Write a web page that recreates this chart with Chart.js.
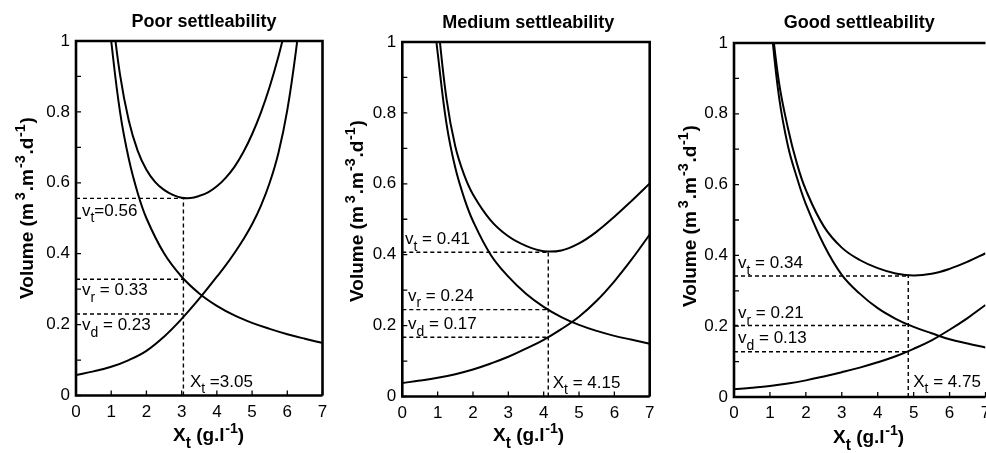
<!DOCTYPE html>
<html><head><meta charset="utf-8">
<script src="https://cdn.jsdelivr.net/npm/chart.js@4.4.1/dist/chart.umd.min.js"></script>
<style>
html,body{margin:0;padding:0;background:#fff;overflow:hidden;width:986px;height:453px;position:relative;}
canvas{position:absolute;top:0;}
</style></head><body>
<canvas id="c1" width="330" height="453" style="left:0px"></canvas>
<canvas id="c2" width="332" height="453" style="left:330px"></canvas>
<canvas id="c3" width="330" height="453" style="left:662px"></canvas>
<script>
// ---------------- data ----------------
const xTickLabels = ['0','1','2','3','4','5','6','7'];
const yTickLabels = ['0','0.2','0.4','0.6','0.8','1'];
const panelTitles = ['Poor settleability','Medium settleability','Good settleability'];

// Poor settleability
const poorVrX = [0.95,1.0,1.25,1.5,1.75,2.0,2.5,3.0,3.5,4.0,4.5,5.0,5.5,6.0,6.5,7.0];
const poorVrY = [1.06,1.0,0.8,0.667,0.572,0.5,0.401,0.335,0.288,0.253,0.226,0.205,0.188,0.173,0.16,0.148];
const poorVdX = [0,0.5,1,1.5,2,2.5,3,3.5,4,4.25,4.5,4.75,5,5.25,5.5,5.75,6.0,6.25,6.5];
const poorVdY = [0.058,0.068,0.081,0.1,0.126,0.166,0.216,0.273,0.335,0.367,0.402,0.44,0.483,0.535,0.6,0.685,0.805,0.975,1.19];
const poorVtX = [1.0,1.25,1.5,1.75,2.0,2.25,2.5,2.75,3.0,3.25,3.5,3.75,4.0,4.25,4.5,4.75,5.0,5.25,5.5,5.75,6.0];
const poorVtY = [1.1,0.905,0.775,0.691,0.637,0.602,0.58,0.566,0.558,0.557,0.563,0.573,0.59,0.614,0.645,0.686,0.737,0.798,0.871,0.957,1.056];

// Medium settleability
const medVrX = [0.9,1.0,1.25,1.5,1.75,2.0,2.5,3.0,3.5,4.0,4.5,5.0,5.5,6.0,6.5,7.0];
const medVrY = [1.06,0.97,0.77,0.645,0.56,0.495,0.4,0.338,0.29,0.253,0.224,0.202,0.185,0.171,0.16,0.149];
const medVdX = [0,0.5,1,1.5,2,2.5,3,3.5,4,4.5,5,5.5,6,6.5,7];
const medVdY = [0.038,0.045,0.053,0.063,0.076,0.093,0.112,0.135,0.16,0.19,0.225,0.27,0.325,0.388,0.457];
const medVtX = [1.0,1.25,1.5,1.75,2.0,2.5,3.0,3.5,4.0,4.5,5.0,5.5,6.0,6.5,7.0];
const medVtY = [1.06,0.84,0.705,0.625,0.57,0.497,0.452,0.425,0.41,0.412,0.432,0.465,0.507,0.553,0.601];

// Good settleability
const goodVrX = [1.0,1.25,1.5,1.75,2.0,2.5,3.0,3.5,4.0,4.5,5.0,5.5,6.0,6.5,7.0];
const goodVrY = [1.08,0.85,0.71,0.62,0.545,0.43,0.345,0.292,0.251,0.221,0.198,0.18,0.163,0.151,0.14];
const goodVdX = [0,0.5,1,1.5,2,2.5,3,3.5,4,4.5,5,5.5,6,6.5,7];
const goodVdY = [0.022,0.026,0.031,0.038,0.047,0.058,0.07,0.083,0.098,0.115,0.136,0.16,0.19,0.223,0.26];
const goodVtX = [1.0,1.25,1.5,1.75,2.0,2.5,3.0,3.5,4.0,4.5,5.0,5.5,6.0,6.5,7.0];
const goodVtY = [1.1,0.89,0.76,0.66,0.585,0.482,0.422,0.387,0.364,0.349,0.343,0.348,0.362,0.382,0.406];

// Optimum points (dashed guides) and their labels
const optimumXt = [3.05, 4.13, 4.85];
const optimumVt = [0.556, 0.407, 0.342];
const optimumVr = [0.328, 0.245, 0.202];
const optimumVd = [0.23, 0.167, 0.128];
const vtLabelText = ['=0.56', ' = 0.41', ' = 0.34'];
const vrLabelText = [' = 0.33', ' = 0.24', ' = 0.21'];
const vdLabelText = [' = 0.23', ' = 0.17', ' = 0.13'];
const xtLabelText = [' =3.05', ' = 4.15', ' = 4.75'];

// ---------------- layout (page pixels) ----------------
const FONT = "'Liberation Sans', Arial, Helvetica, sans-serif";
const layouts = [
  {id:'c1', left:0, width:330, plotL:76, plotR:322.5, plotT:41, plotB:395.5, rightBorder:true,
   title:[204,27], ytitle:[33,208], xtitle:[173,441], labelX:[82,82,82], labelDy:[17.5,16,16.5], xtDx:6.5, xtY:387},
  {id:'c2', left:330, width:332, plotL:402.3, plotR:649.7, plotT:42, plotB:396.5, rightBorder:true,
   title:[528.3,28], ytitle:[363,211], xtitle:[493,441], labelX:[405,408,408], labelDy:[-8,-9,-8], xtDx:4.5, xtY:388},
  {id:'c3', left:662, width:330, plotL:734, plotR:985.5, plotT:43, plotB:397, rightBorder:false,
   title:[859.3,27.5], ytitle:[696,216], xtitle:[833,443], labelX:[738,738,738], labelDy:[-7.5,-7,-8.4], xtDx:5, xtY:387}
];

const series = [
  [[poorVrX,poorVrY],[poorVdX,poorVdY],[poorVtX,poorVtY]],
  [[medVrX,medVrY],[medVdX,medVdY],[medVtX,medVtY]],
  [[goodVrX,goodVrY],[goodVdX,goodVdY],[goodVtX,goodVtY]]
];

function pts(xs, ys){ return xs.map((x,i)=>({x:x, y:ys[i]})); }

function drawSegs(ctx, segs, x, y, size, bold, measureOnly){
  let cx = x;
  for (const s of segs){
    let fs = size, dy = 0;
    if (s.sub){ fs = size*0.82; dy = size*0.38; }
    if (s.sup){ fs = size*0.75; dy = -size*0.42; }
    if (s.gap) cx += s.gap;
    ctx.font = (bold?'bold ':'') + fs + 'px ' + FONT;
    if (!measureOnly) ctx.fillText(s.t, cx, y+dy);
    cx += ctx.measureText(s.t).width;
  }
  return cx - x;
}

Chart.defaults.font.family = FONT;
Chart.defaults.color = '#000';

layouts.forEach((L, p) => {
  const xt = optimumXt[p], vt = optimumVt[p], vr = optimumVr[p], vd = optimumVd[p];
  const curve = (d) => ({data: pts(d[0], d[1]), borderColor:'#000', borderWidth:2, pointRadius:0,
    showLine:true, fill:false, tension:0.4});
  const dashed = (a) => ({data:a, borderColor:'#000', borderWidth:1.4, borderDash:[4,3], pointRadius:0,
    showLine:true, fill:false, tension:0});
  const datasets = [
    curve(series[p][0]), curve(series[p][1]), curve(series[p][2]),
    dashed([{x:0,y:vt},{x:xt,y:vt}]),
    dashed([{x:0,y:vr},{x:xt,y:vr}]),
    dashed([{x:0,y:vd},{x:xt,y:vd}]),
    dashed([{x:xt,y:0},{x:xt,y:vt}])
  ];
  const off = L.left;
  const overlay = {
    id:'overlay'+p,
    afterDatasetsDraw(chart){
      const ctx = chart.ctx, a = chart.chartArea;
      const xs = chart.scales.x, ys = chart.scales.y;
      ctx.save();
      ctx.strokeStyle = '#000'; ctx.fillStyle = '#000';
      // inward tick marks
      ctx.lineWidth = 1.3;
      ctx.beginPath();
      xs.ticks.forEach(t => { const px = xs.getPixelForValue(t.value); ctx.moveTo(px, a.bottom); ctx.lineTo(px, a.bottom-5); });
      ys.ticks.forEach(t => { const py = ys.getPixelForValue(t.value); ctx.moveTo(a.left, py); ctx.lineTo(a.left+5, py); });
      ctx.stroke();
      // frame
      ctx.lineWidth = 2.6;
      ctx.beginPath();
      ctx.moveTo(a.right, a.bottom); ctx.lineTo(a.left, a.bottom); ctx.lineTo(a.left, a.top); ctx.lineTo(a.right, a.top);
      if (L.rightBorder) ctx.lineTo(a.right, a.bottom);
      ctx.stroke();
      // title
      ctx.textBaseline = 'alphabetic';
      ctx.textAlign = 'center';
      ctx.font = 'bold 18px ' + FONT;
      ctx.fillText(panelTitles[p], L.title[0]-off, L.title[1]);
      ctx.textAlign = 'left';
      // x axis title
      drawSegs(ctx, [{t:'X'},{t:'t',sub:true},{t:' (g.l'},{t:'-1',sup:true,gap:0.5},{t:')'}], L.xtitle[0]-off, L.xtitle[1], 19, true);
      // y axis title (rotated)
      const ysegs = [{t:'Volume (m'},{t:'3',sup:true,gap:3},{t:'.m',gap:1},{t:'-3',sup:true,gap:1},{t:'.d',gap:1},{t:'-1',sup:true,gap:0.5},{t:')',gap:1}];
      const w = drawSegs(ctx, ysegs, 0, 0, 19, true, true);
      ctx.save();
      ctx.translate(L.ytitle[0]-off, L.ytitle[1]);
      ctx.rotate(-Math.PI/2);
      drawSegs(ctx, ysegs, -w/2, 0, 19, true);
      ctx.restore();
      // annotation labels
      const vals = [vt, vr, vd];
      const subs = ['t','r','d'];
      const txts = [vtLabelText[p], vrLabelText[p], vdLabelText[p]];
      for (let i=0;i<3;i++){
        const py = ys.getPixelForValue(vals[i]) + L.labelDy[i];
        drawSegs(ctx, [{t:'v'},{t:subs[i],sub:true},{t:txts[i]}], L.labelX[i]-off, py, 17, false);
      }
      drawSegs(ctx, [{t:'X'},{t:'t',sub:true},{t:xtLabelText[p]}], xs.getPixelForValue(xt)+L.xtDx, L.xtY, 17, false);
      ctx.restore();
    }
  };
  new Chart(document.getElementById(L.id), {
    type:'scatter',
    data:{datasets},
    options:{
      responsive:false, animation:false, devicePixelRatio:1,
      layout:{padding:{left:0, top:L.plotT, bottom:0, right:L.width-(L.plotR-off)}},
      plugins:{legend:{display:false}, tooltip:{enabled:false}, title:{display:false}},
      scales:{
        x:{type:'linear', position:'bottom', min:0, max:7,
          grid:{display:false, drawTicks:false}, border:{display:false},
          ticks:{stepSize:1, autoSkip:false, maxRotation:0, padding:6.5, font:{size:17}, color:'#000',
            callback:(v)=>xTickLabels[Math.round(v)]},
          afterFit:(s)=>{ s.height = 453 - L.plotB; s.paddingLeft = 0; s.paddingRight = 0; }
        },
        y:{type:'linear', position:'left', min:0, max:1,
          grid:{display:false, drawTicks:false}, border:{display:false},
          ticks:{stepSize:0.1, autoSkip:false, padding:6, font:{size:17}, color:'#000',
            callback:(v)=>{ const k = Math.round(v*10); return k%2===0 ? yTickLabels[k/2] : ''; }},
          afterFit:(s)=>{ s.width = L.plotL - off; s.paddingTop = 0; s.paddingBottom = 0; }
        }
      }
    },
    plugins:[overlay]
  });
});
</script>
</body></html>
